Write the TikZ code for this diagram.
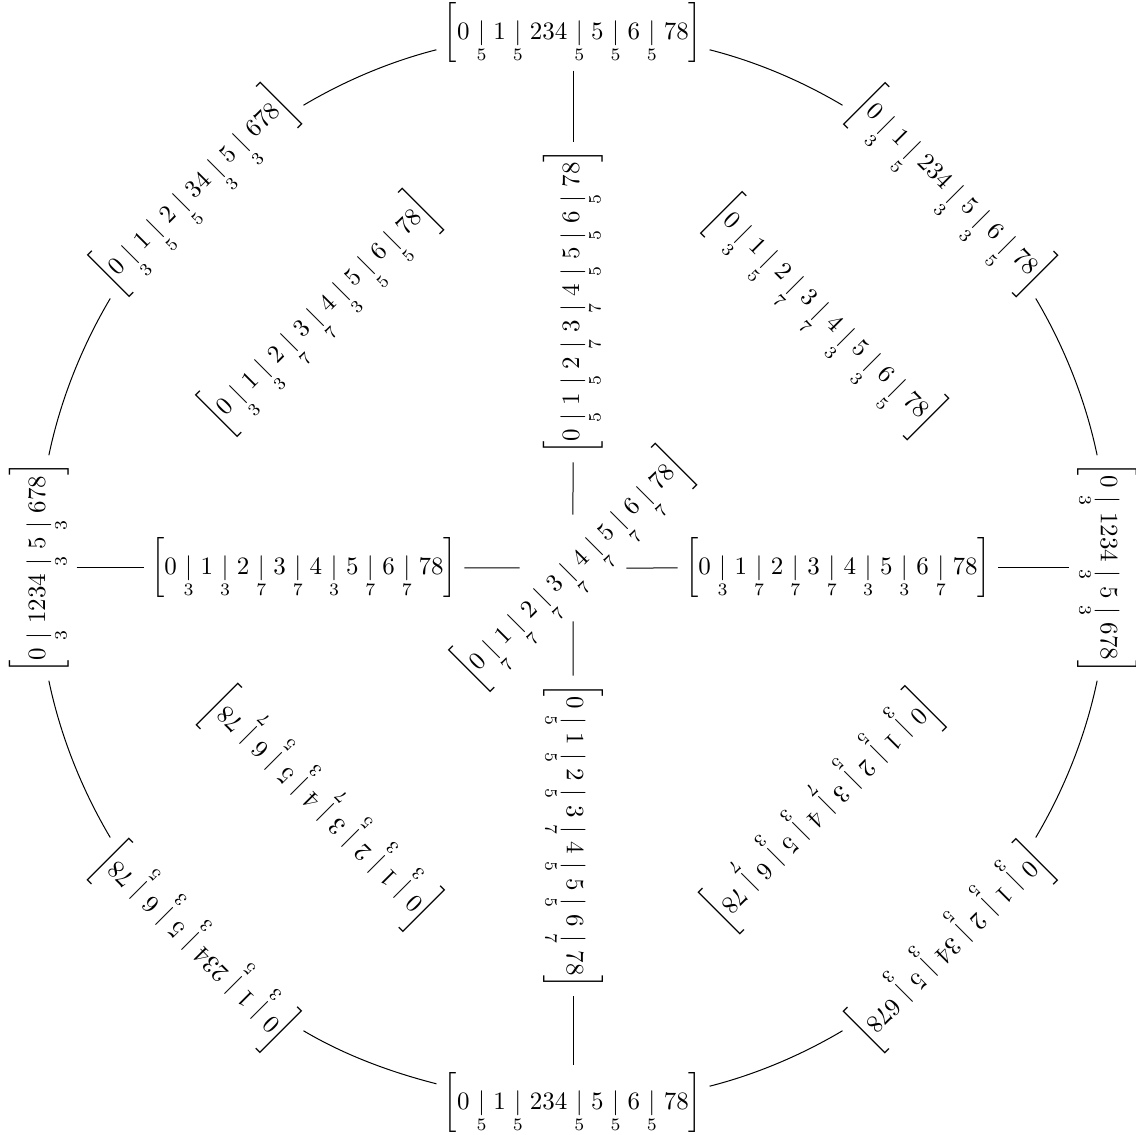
\documentclass[tikz,border=0pt]{standalone}
\usepackage{amsmath}
\newcommand{\rs}[1]{\mathrel{\underset{#1}{|}}}
\tikzset{
  lab/.style={inner sep=3pt, outer sep=0pt},
  conn/.style={draw, line width=0.4pt},
  arcc/.style={draw, line width=0.4pt, looseness=0.85}
}
\begin{document}
\begin{tikzpicture}[x=0.4pt,y=0.4pt]
\useasboundingbox (0,0) rectangle (1136,1135);
% outer ring
\node[lab] (on)  at (573,1102) {$\left[0\rs5 1\rs5 234\rs5 5\rs5 6\rs5 78\right]$};
\node[lab,rotate=-45] (one) at (951,945) {$\left[0\rs3 1\rs5 234\rs3 5\rs3 6\rs5 78\right]$};
\node[lab,rotate=-90] (oe)  at (1107,567) {$\left[0\rs3 1234\rs3 5\rs3 678\right]$};
\node[lab,rotate=225] (ose) at (951,189) {$\left[0\rs3 1\rs5 2\rs5 34\rs3 5\rs3 678\right]$};
\node[lab] (os)  at (573,32) {$\left[0\rs5 1\rs5 234\rs5 5\rs5 6\rs5 78\right]$};
\node[lab,rotate=135] (osw) at (195,189) {$\left[0\rs3 1\rs5 234\rs3 5\rs3 6\rs5 78\right]$};
\node[lab,rotate=90] (ow)  at (39,567) {$\left[0\rs3 1234\rs3 5\rs3 678\right]$};
\node[lab,rotate=45] (onw) at (195,945) {$\left[0\rs3 1\rs5 2\rs5 34\rs3 5\rs3 678\right]$};
% inner ring
\node[lab,rotate=90] (in) at (573,833) {$\left[0\rs5 1\rs5 2\rs7 3\rs7 4\rs5 5\rs5 6\rs5 78\right]$};
\node[lab,rotate=-45] (ine) at (825,819) {$\left[0\rs3 1\rs5 2\rs7 3\rs7 4\rs3 5\rs3 6\rs5 78\right]$};
\node[lab] (ie) at (838,567) {$\left[0\rs3 1\rs7 2\rs7 3\rs7 4\rs3 5\rs3 6\rs7 78\right]$};
\node[lab,rotate=225] (ise) at (823,325) {$\left[0\rs3 1\rs5 2\rs5 3\rs7 4\rs3 5\rs3 6\rs7 78\right]$};
\node[lab,rotate=-90] (is) at (573,299) {$\left[0\rs5 1\rs5 2\rs5 3\rs7 4\rs5 5\rs5 6\rs7 78\right]$};
\node[lab,rotate=135] (isw) at (321,327) {$\left[0\rs3 1\rs3 2\rs5 3\rs7 4\rs3 5\rs5 6\rs7 78\right]$};
\node[lab] (iw) at (304,567) {$\left[0\rs3 1\rs3 2\rs7 3\rs7 4\rs3 5\rs7 6\rs7 78\right]$};
\node[lab,rotate=45] (inw) at (320,822) {$\left[0\rs3 1\rs3 2\rs7 3\rs7 4\rs3 5\rs5 6\rs5 78\right]$};
% centre
\node[lab,rotate=45] (c) at (573,567) {$\left[0\rs7 1\rs7 2\rs7 3\rs7 4\rs7 5\rs7 6\rs7 78\right]$};
% spokes
\draw[conn] (on) -- (in);
\draw[conn] (in) -- (c);
\draw[conn] (c) -- (is);
\draw[conn] (is) -- (os);
\draw[conn] (ow) -- (iw);
\draw[conn] (iw) -- (c);
\draw[conn] (c) -- (ie);
\draw[conn] (ie) -- (oe);
% arcs of the outer circle
\draw[arcc] (on.-7.15)  to[out=-14.3,  in=149.3]  (one.187.15);
\draw[arcc] (one.-7.15) to[out=-59.3,  in=101.75] (oe.185.875);
\draw[arcc] (oe.-5.875) to[out=-101.75,in=59.3]   (ose.187.15);
\draw[arcc] (ose.-7.15) to[out=-149.3, in=14.3]   (os.7.15);
\draw[arcc] (os.172.85) to[out=165.7,  in=-30.7]  (osw.187.15);
\draw[arcc] (osw.-7.15) to[out=120.7,  in=-78.25] (ow.185.875);
\draw[arcc] (ow.-5.875) to[out=78.25,  in=239.3]  (onw.187.15);
\draw[arcc] (onw.-7.15) to[out=30.7,   in=194.3]  (on.187.15);
\end{tikzpicture}
\end{document}
